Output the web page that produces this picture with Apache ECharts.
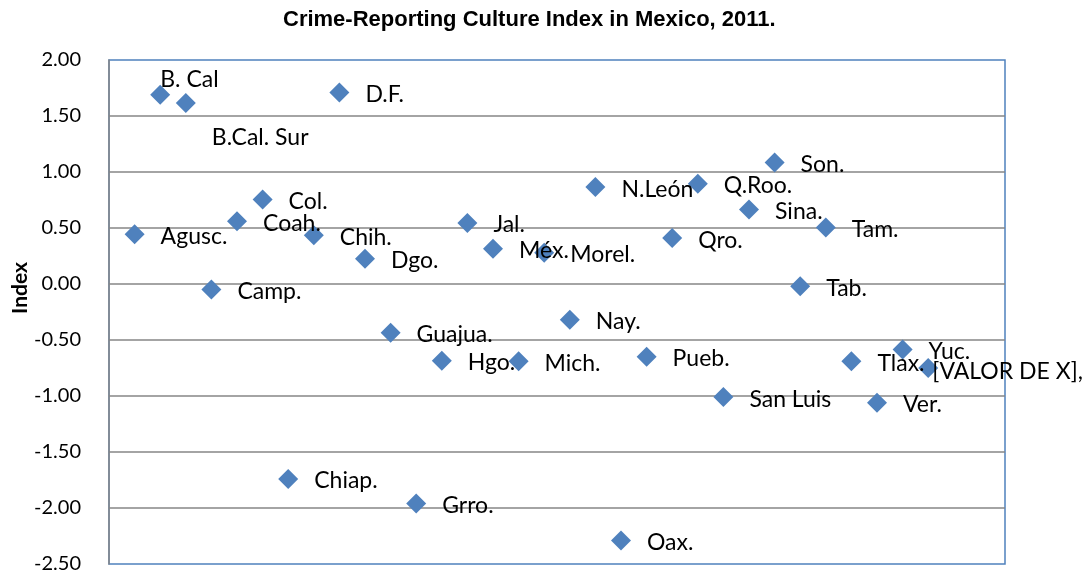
<!DOCTYPE html>
<html>
<head>
<meta charset="utf-8">
<script src="https://cdn.jsdelivr.net/npm/echarts@6/dist/echarts.min.js"></script>
<style>
  html, body { margin: 0; padding: 0; background: #ffffff; }
  #chart { width: 1086px; height: 578px; }
</style>
</head>
<body>
<div id="chart"></div>
<script>
// ---- data ----
const states = ["Agusc.", "B. Cal", "B.Cal. Sur", "Camp.", "Coah.", "Col.", "Chiap.", "Chih.",
  "D.F.", "Dgo.", "Guajua.", "Grro.", "Hgo.", "Jal.", "Méx.", "Mich.",
  "Morel.", "Nay.", "N.León", "Oax.", "Pueb.", "Qro.", "Q.Roo.", "San Luis",
  "Sina.", "Son.", "Tab.", "Tam.", "Tlax.", "Ver.", "Yuc.", "[VALOR DE X],"];
const xPos = [1, 2, 3, 4, 5, 6, 7, 8, 9, 10, 11, 12, 13, 14, 15, 16,
  17, 18, 19, 20, 21, 22, 23, 24, 25, 26, 27, 28, 29, 30, 31, 32];
const indexValues = [0.445, 1.69, 1.615, -0.05, 0.56, 0.755, -1.74, 0.435,
  1.71, 0.225, -0.435, -1.96, -0.685, 0.545, 0.315, -0.69,
  0.28, -0.32, 0.865, -2.29, -0.65, 0.41, 0.895, -1.01,
  0.665, 1.085, -0.02, 0.505, -0.69, -1.06, -0.585, -0.75];
const yTicks = { min: -2.5, max: 2.0, step: 0.5 };
const titleText = "Crime-Reporting Culture Index in Mexico, 2011.";
const yAxisTitle = "Index";

// ---- label placement tweaks (styling only) ----
const labelOffsets = {
  "B. Cal": [-26, -15],
  "B.Cal. Sur": [0, 34],
  "[VALOR DE X],": [-22, 4]
};

const points = states.map((s, i) => ({ value: [xPos[i], indexValues[i]], name: s }));

const chart = echarts.init(document.getElementById('chart'), null, { renderer: 'canvas' });
chart.setOption({
  animation: false,
  backgroundColor: '#ffffff',
  title: {
    text: titleText,
    left: 283,
    top: 9,
    padding: 0,
    textStyle: {
      fontFamily: "'Liberation Sans', Arial, sans-serif",
      fontWeight: 'bold',
      fontSize: 22,
      color: '#000000'
    }
  },
  grid: {
    left: 109, right: 81, top: 60, bottom: 14,
    show: true,
    borderColor: '#4F81BD',
    borderWidth: 1.5,
    backgroundColor: 'transparent'
  },
  xAxis: {
    type: 'value',
    min: 0, max: 35,
    show: false,
    splitLine: { show: false }
  },
  yAxis: {
    type: 'value',
    min: yTicks.min, max: yTicks.max, interval: yTicks.step,
    axisLine: { show: true, lineStyle: { color: '#868686', width: 1.5 } },
    axisTick: { show: false },
    axisLabel: {
      margin: 28,
      fontFamily: 'Lato, sans-serif',
      fontSize: 20,
      color: '#000000',
      formatter: v => v.toFixed(2)
    },
    splitLine: {
      show: true,
      showMinLine: false,
      showMaxLine: false,
      lineStyle: { color: '#868686', width: 1.5 }
    }
  },
  graphic: [{
    type: 'text',
    x: 20, y: 288,
    rotation: Math.PI / 2,
    style: {
      text: yAxisTitle,
      fontFamily: 'Lato, sans-serif',
      fontWeight: 'bold',
      fontSize: 21,
      fill: '#000000',
      align: 'center',
      verticalAlign: 'middle'
    }
  }],
  series: [{
    type: 'scatter',
    symbol: 'diamond',
    symbolSize: 20,
    itemStyle: { color: '#4F81BD', opacity: 1 },
    clip: false,
    label: {
      show: true,
      position: 'right',
      distance: 16,
      formatter: p => p.name,
      fontFamily: 'Lato, sans-serif',
      fontSize: 23,
      color: '#000000'
    },
    labelLayout: function (params) {
      const off = labelOffsets[states[params.dataIndex]] || [0, 2];
      return { dx: off[0], dy: off[1], hideOverlap: false };
    },
    data: points
  }]
});
</script>
</body>
</html>
